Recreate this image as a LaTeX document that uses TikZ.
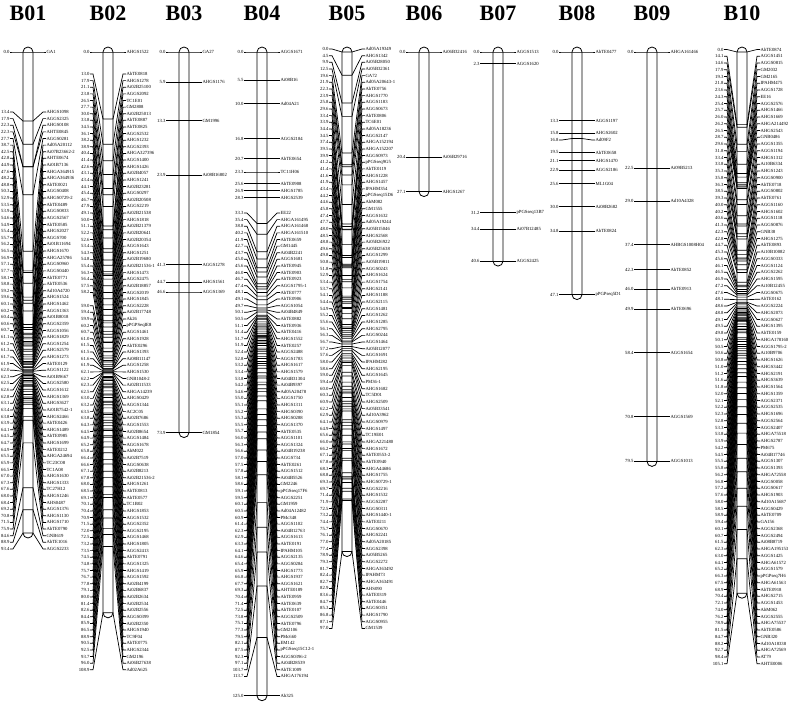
\documentclass[tikz,border=0pt]{standalone}
\usepackage{fontspec}
\setmainfont{Liberation Serif}
\usepackage{tikz}
\usetikzlibrary{positioning}

% map geometry (1 unit = 1 pixel of the figure)
\def\lgzero{52}   % y of 0.0 cM
\def\lgscale{5.15}% pixels per cM
\def\lggap{18}    % distance from bar axis to texts
\def\lgskip{0}    % row whose position is not printed

% #1 name, #2 bar axis x, #3 row pitch, #4 first stacked row, #5 last stacked row,
% #6 y of first stacked row, #7 list position/marker
\newcommand\lgmap[7]{%
  \node[lgtitle] (#1t) at (#2,13) {#1};
  \gdef\lgprev{-100}%
  \foreach \p/\m [count=\i] in {#7}{%
    \pgfmathsetmacro\ty{\lgzero+\p*\lgscale}%
    \ifnum\i<#4\relax
      \pgfmathsetmacro\ly{max(\ty,\lgprev+#3)}%
    \else\ifnum\i>#5\relax
      \pgfmathsetmacro\ly{max(\ty,\lgprev+#3)}%
    \else
      \pgfmathsetmacro\ly{#6+(\i-#4)*#3}%
    \fi\fi
    \xdef\lgprev{\ly}\xdef\lgend{\ty}%
    \coordinate (#1l\i) at (#2-5,\ty);
    \coordinate (#1r\i) at (#2+5,\ty);
    \node[mkname] (#1m\i) at (#2+\lggap,\ly) {\m};
    \ifnum\i=\lgskip\relax
      \node[cmnum] (#1n\i) at (#2-\lggap,\ly) {};
      \draw[tickln] (#1l\i) -- (#1r\i) -- ([xshift=-3pt]#1m\i.west) -- (#1m\i.west);
    \else
      \node[cmnum] (#1n\i) at (#2-\lggap,\ly) {\p};
      \draw[tickln] (#1n\i.east) -- ++(3,0) -- (#1l\i) -- (#1r\i)
        -- ([xshift=-3pt]#1m\i.west) -- (#1m\i.west);
    \fi
  }%
  \draw[chrom] (#2-5,\lgzero-5) rectangle (#2+5,\lgend+5);
}

\begin{document}
\begin{tikzpicture}[
   x=1pt, y=-1pt,
   lgtitle/.style={font=\fontsize{22}{24}\selectfont\bfseries, inner sep=0pt},
   cmnum/.style={anchor=east, inner sep=0.4pt, font=\fontsize{4.7}{5}\selectfont},
   mkname/.style={anchor=west, inner sep=0.4pt, font=\fontsize{4.7}{5}\selectfont},
   tickln/.style={line width=0.7pt, black},
   chrom/.style={line width=0.8pt, rounded corners=5pt},
]
  \useasboundingbox (0,0) rectangle (793,704);

  \lgmap{B01}{28}{6.62}{2}{999}{112}{0.0/GA1,
    13.4/AHGS1098, 17.9/AGGS2325, 22.3/AHGS0108, 22.3/AHTE0845, 27.7/AGGS0281,
    38.7/Ad05A20112, 42.5/Ai07B23662-2, 42.8/AHTE0674, 44.9/Ai01B7136, 47.6/AHGA364915,
    48.2/AHGA364936, 48.8/AhTE0021, 50.3/AGGS0408, 52.9/AHGS0729-2, 53.5/AhTE0489,
    53.9/AGGS0833, 54.6/AGGS2567, 54.9/AhTE0585, 55.4/AHGS2027, 55.7/AGGS700,
    56.2/Ai01B11694, 56.5/AHGS1670, 56.9/AHGA25786, 57.1/AGGS0960, 57.7/AGGS0440,
    58.1/AhTE0771, 58.8/AhTE0536, 59.2/Ad10A4720, 59.6/AHGS1524, 60.1/AHGS1462,
    60.2/AGGS1363, 60.4/Ai01B8018, 60.6/AGGS2359, 60.7/AGGS1056, 61.1/AHGS1829,
    61.2/AGGS1254, 61.3/AHGS2579, 61.7/AHGS1273, 61.9/AhTE0129, 62.0/AGGS1122,
    62.3/Ai01B9667, 62.5/AGGS2580, 62.6/AGGS1612, 62.8/AHGS1369, 63.1/AHGS3627,
    63.4/Ai01B7542-1, 63.8/AHGS2466, 63.9/AhTE0426, 64.1/AHGS1489, 64.5/AhTE0985,
    64.7/AHGS1699, 64.9/AhTE0212, 65.5/AHGA24694, 65.9/TC23C08, 66.5/TC1A08,
    67.0/AHGS1630, 67.3/AHGS1333, 67.6/TC27H12, 68.0/AHGS1246, 68.4/AHS0487,
    69.2/AGGS1376, 70.8/AHGS1130, 71.5/AHGS1710, 75.9/AhTE0790, 84.6/GNB619,
    88.9/AhTE1016, 93.4/AGGS2233}

  \gdef\lgskip{36}
  \lgmap{B02}{108}{6.62}{2}{999}{74}{0.0/AHGS1522,
    13.0/AhTE0818, 17.9/AHGS1278, 21.1/Ai02B25100, 23.8/AGGS2092, 26.5/TC1E01,
    27.7/GM2808, 30.0/Ai02B25013, 33.8/AhTE0887, 34.5/AhTE0825, 36.1/AGGS2532,
    38.2/AHGS1232, 38.9/AGGS2393, 40.4/AHGA327396, 41.4/AGGS1400, 42.6/AHGS1426,
    43.1/Ai02B4057, 43.4/AHGS1241, 44.1/Ai02B23281, 45.4/AGGS0297, 46.7/Ai02B20508,
    47.9/AGGS2219, 49.1/Ai02B21538, 50.0/AHGS1818, 51.1/Ai02B21379, 52.2/Ai02B20641,
    52.6/Ai02B20354, 53.4/AGGS1643, 54.3/AHGS1251, 54.8/Ai02B19680, 55.4/Ai02B21536-1,
    56.3/AHGS1473, 56.4/AGGS2475, 57.5/Ai02B18857, 58.2/AGGS2019, 58.2/AHGS1845,
    59.0/AGGS2228, 59.4/Ai02B17748, 59.9/Ak26, 60.2/pPGPSeqIE8, 60.7/AGGS1461,
    61.0/AHGS1928, 61.5/AhTE0296, 61.5/AHGS1393, 61.6/Ai08B11147, 61.9/AGGS1258,
    62.1/AHGS1530, 62.2/GNB1048-2, 62.3/Ai02B11533, 62.5/AHGA14239, 63.0/AHGS0429,
    63.2/AGGS1344, 63.5/AC2C05, 63.8/Ai02B7686, 64.3/AGGS1553, 64.5/Ai02B8654,
    64.9/AGGS1484, 65.2/AGGS1678, 65.8/AhM022, 66.4/Ai02B7519, 66.6/AGGS0638,
    67.1/Ai02B8213, 67.8/Ai02B21536-2, 68.0/AHGS1261, 68.5/AhTE0813, 69.1/AhTE0577,
    70.1/TC1B02, 70.4/AHGS1853, 70.9/AGGS1532, 71.5/AGGS2352, 72.0/AGGS2195,
    72.5/AGGS1468, 73.2/AHGS1805, 73.5/AGGS2413, 74.5/AhTE0791, 74.8/AGGS1325,
    75.7/AHGS1419, 76.7/AGGS1592, 77.8/Ai02B4199, 79.1/Ai02B6837, 80.0/Ai02B2634,
    81.4/Ai02B2534, 82.6/Ai02B2556, 84.4/AGGS0399, 85.9/Ai02B2350, 86.5/AHGS1940,
    88.9/TC9F04, 90.5/AhTE0775, 92.5/AHGS2344, 93.7/GM2196, 96.0/Ai06B27638,
    108.9/Ad02A625}
  \gdef\lgskip{0}

  \lgmap{B03}{184}{6.62}{999}{999}{0}{0.0/GA27, 5.9/AHGS1176, 13.3/GM1996,
    23.9/Ai08B16802, 41.3/AGGS1278, 44.7/AHGS1561, 46.6/AGGS1369, 73.9/GM1854}

  \lgmap{B04}{262}{6.62}{10}{80}{213}{0.0/AGGS1671, 5.5/Ai08B16, 10.0/Ad04A21,
    16.8/AGGS2184, 20.7/AhTE0654, 23.3/TC11H06, 25.6/AhTE0908, 26.9/AHGS1785,
    28.3/AHGS2539,
    33.3/EE22, 35.4/AHGA161495, 38.8/AHGA161468, 40.2/AHGA161510, 41.9/AhTE0659,
    42.7/GM1445, 43.7/Ai04B2241, 45.0/AGGS1681, 45.6/AhTE0945, 46.0/AhTE0903,
    46.7/AhTE0923, 47.4/AGGS1795-1, 48.1/AhTE0777, 49.1/AhTE0906, 49.7/AGGS1054,
    50.1/Ai04B4849, 50.5/AhTE0882, 51.1/AhTE0936, 51.4/AhTE0416, 51.7/AHGS1552,
    51.9/AhTE0257, 52.4/AGGS2488, 52.8/AGGS1783, 53.2/AHGS1617, 53.4/AHGS1579,
    53.8/Ai04B31304, 54.2/Ai04B9397, 54.6/Ad05A20478, 55.0/AGGS1750, 55.1/AHGS1311,
    55.2/AHGS0390, 55.3/AHGS0288, 55.5/AGGS1370, 55.7/AhTE0535, 56.0/AGGS1101,
    56.3/AGGS1324, 56.6/Ai04B19238, 57.0/AGGS734, 57.5/AhTE0261, 57.8/AGGS1512,
    58.1/Ai04B5526, 58.6/GM2246, 59.1/pPGSseq17F6, 59.5/AGGS2251, 60.1/GM1959,
    60.5/Ad04A12482, 60.9/PMc348, 61.4/AGGS1102, 62.3/Ai04B12763, 62.9/AGGS1613,
    63.3/AhTE0191, 64.1/IPAHM105, 64.6/AGGS2135, 65.4/AGGS0284, 65.9/AHGS1773,
    66.8/AHGS1937, 67.7/AGGS1621, 69.3/AHTE0189, 70.4/AhTE0959, 71.4/AhTE0639,
    72.5/AhTE0107, 73.8/AGGS2509, 75.1/AhTE0796, 77.3/GM2106, 79.5/PMc660,
    82.1/EM142, 87.5/pPGSseq15C12-1, 92.3/AGGS0396-2, 97.1/Ai04B28539,
    103.7/AhTE1009, 113.7/AHGA176194,
    125.0/Ah325}

  \lgmap{B05}{347}{6.66}{1}{999}{49}{0.0/Ad05A19349, 4.5/AHGS1342, 9.9/Ai05B28050,
    12.5/Ai05B32361, 19.6/GA72, 21.9/Ad05A20643-1, 22.3/AhTE0756, 23.9/AHGS1770,
    25.8/AGGS1183, 29.6/AGGS0673, 33.4/AhTE0806, 33.9/TC6E01, 34.4/Ad05A18236,
    34.5/AGGS2147, 37.4/AHGA152194, 39.5/AHGA152207, 39.9/AGGS0973, 41.2/pPGSseq9G5,
    41.4/AhTE0119, 41.6/AHGS1228, 41.9/AHGS1457, 43.4/IPAHM354, 44.2/pPGSseq15D6,
    44.6/AhM082, 45.8/GM1555, 47.4/AGGS1632, 47.7/Ad05A19244, 48.0/Ai05B15046,
    48.5/AHGS2568, 48.8/Ai05B26922, 49.6/Ai05B25638, 49.8/AGGS1299, 50.8/Ai05B19811,
    51.8/AGGS0243, 52.9/AHGS1624, 53.4/AGGS1754, 53.7/AHGS2141, 54.1/AHGS1188,
    54.4/AGGS2115, 54.9/AGGS1481, 55.2/AGGS1262, 55.6/AHGS1285, 56.1/AHGS2795,
    56.3/AGGS0244, 56.7/AGGS1464, 57.2/Ai05B12077, 57.6/AGGS1691, 58.0/IPAHM282,
    58.6/AHGS2195, 59.0/AGGS1645, 59.4/PM36-1, 60.0/AHGS1682, 60.3/TC5D01,
    60.9/AHGS2509, 62.2/Ai05B33541, 62.9/Ad10A3962, 64.1/AGGS0979, 64.9/AHGS1497,
    65.6/TC19E01, 66.0/AHGA221480, 66.2/AHGS1672, 67.1/AhTE0553-2, 67.8/AhTE0940,
    68.3/AHGA44686, 68.8/AHGS1755, 69.3/AHGS0729-1, 69.7/AGGS2216, 71.4/AHGS1532,
    71.9/AGGS2287, 72.5/AGGS0311, 73.2/AHGS1440-1, 74.4/AhTE0211, 75.7/AGGS0670,
    76.1/AHGS2241, 77.0/Ad05A20185, 77.4/AGGS2398, 78.9/Ai05B5265, 79.3/AGGS2272,
    81.7/AHGA363492, 82.4/IPAHM73, 82.7/AHGA363491, 82.9/AHS090, 83.6/AhTE0319,
    84.7/AhTE0446, 85.3/AGGS0351, 86.8/AHGS1790, 87.1/AGGS0955, 97.0/GM1539}

  \lgmap{B06}{424}{6.62}{999}{999}{0}{0.0/Ai06B32416, 20.4/Ai06B29716, 27.1/AHGS1267}

  \lgmap{B07}{498}{6.62}{999}{999}{0}{0.0/AGGS1513, 2.3/AGGS1620, 31.2/pPGSseq13B7,
    34.4/Ai07B12485, 40.6/AGGS2425}

  \lgmap{B08}{577}{6.62}{999}{999}{0}{0.0/AhTE0477, 13.3/AGGS1197, 15.8/AHGS2602,
    16.8/Ad09F2, 19.5/AhTE0658, 21.1/AHGS1470, 22.9/AGGS2186, 25.6/ML1G04,
    30.0/Ai08B2682, 34.8/AhTE0824, 47.1/pPGPseq5D1}

  \lgmap{B09}{652}{6.62}{999}{999}{0}{0.0/AHGA161466, 22.5/Ai09B5213, 29.0/Ad10A4328,
    37.4/AHBGS1008H04, 42.3/AhTE0852, 46.0/AhTE0913, 49.9/AhTE0696, 58.4/AGGS1654,
    70.8/AGGS1569, 79.5/AGGS1013}

  \lgmap{B10}{742}{6.75}{1}{999}{49.5}{0.0/AhTE0874, 14.1/AGGS1451, 14.6/AGGS0815,
    17.9/GM2032, 19.3/GM2165, 21.8/IPAHM475, 23.6/AGGS1728, 24.3/EE16, 25.4/AGGS2576,
    25.7/AHGS1466, 26.0/AHGS1669, 26.2/AHGA214492, 26.5/AHGS2543, 28.7/GNB0486,
    29.6/AGGS1355, 31.8/AGGS1194, 33.4/AHGS1312, 33.8/Ai10B6334, 35.3/AHGS1243,
    35.8/AGGS0900, 36.3/AhTE0718, 38.5/AGGS0802, 39.3/AhTE0761, 40.0/AGGS1160,
    40.2/AHGS1602, 40.6/AGGS1118, 41.3/AGGS0876, 42.3/GNB38, 42.8/AHGS1275,
    44.7/AhTE0893, 45.3/Ai10B10082, 45.6/AGGS0333, 46.1/AGGS1124, 46.5/AGGS2262,
    46.9/AHGS1595, 47.2/Ai10B12455, 47.6/AGGS0675, 48.1/AhTE0162, 48.6/AGGS2224,
    48.8/AHGS2073, 49.1/AGGS0627, 49.5/AHGS1395, 49.8/AhTE0159, 50.1/AHGA178160,
    50.5/AGGS1795-2, 50.6/Ai10B9706, 50.8/AHGS1626, 51.0/AHGS3442, 51.2/AHGS2191,
    51.6/AHGS3639, 51.8/AHGS1564, 52.0/AHGS1359, 52.1/AGGS2371, 52.2/AGGS2535,
    52.3/AHGS1696, 52.8/AGGS2564, 53.3/AGGS2407, 53.8/AHGA75518, 53.9/AHGS2787,
    54.2/PM675, 54.5/Ai04B17746, 55.5/AGGS1307, 55.8/AGGS1393, 56.2/AHGA72558,
    56.8/AGGS0058, 57.2/AGGS0617, 57.6/AHGS1903, 58.0/Ad10A15687, 58.5/AGGS0429,
    58.9/AhTE0709, 59.4/GA156, 60.1/AGGS2368, 60.7/AGGS2494, 61.5/Ai08B8719,
    62.3/AHGA195153, 63.0/AGGS1425, 64.1/AHGA61572, 65.2/AGGS1579, 66.3/pPGPseq7H6,
    67.5/AHGA61563, 68.9/AhTE0918, 70.4/AHGS2715, 72.1/AGGS1453, 74.0/AhM062,
    76.2/AGGS2555, 78.9/AHGA75537, 81.5/AhTE0586, 84.7/GNB320, 88.2/Ad10A18338,
    92.7/AHGA72569, 98.4/AT79, 105.1/AHTE0006}
\end{tikzpicture}
\end{document}
